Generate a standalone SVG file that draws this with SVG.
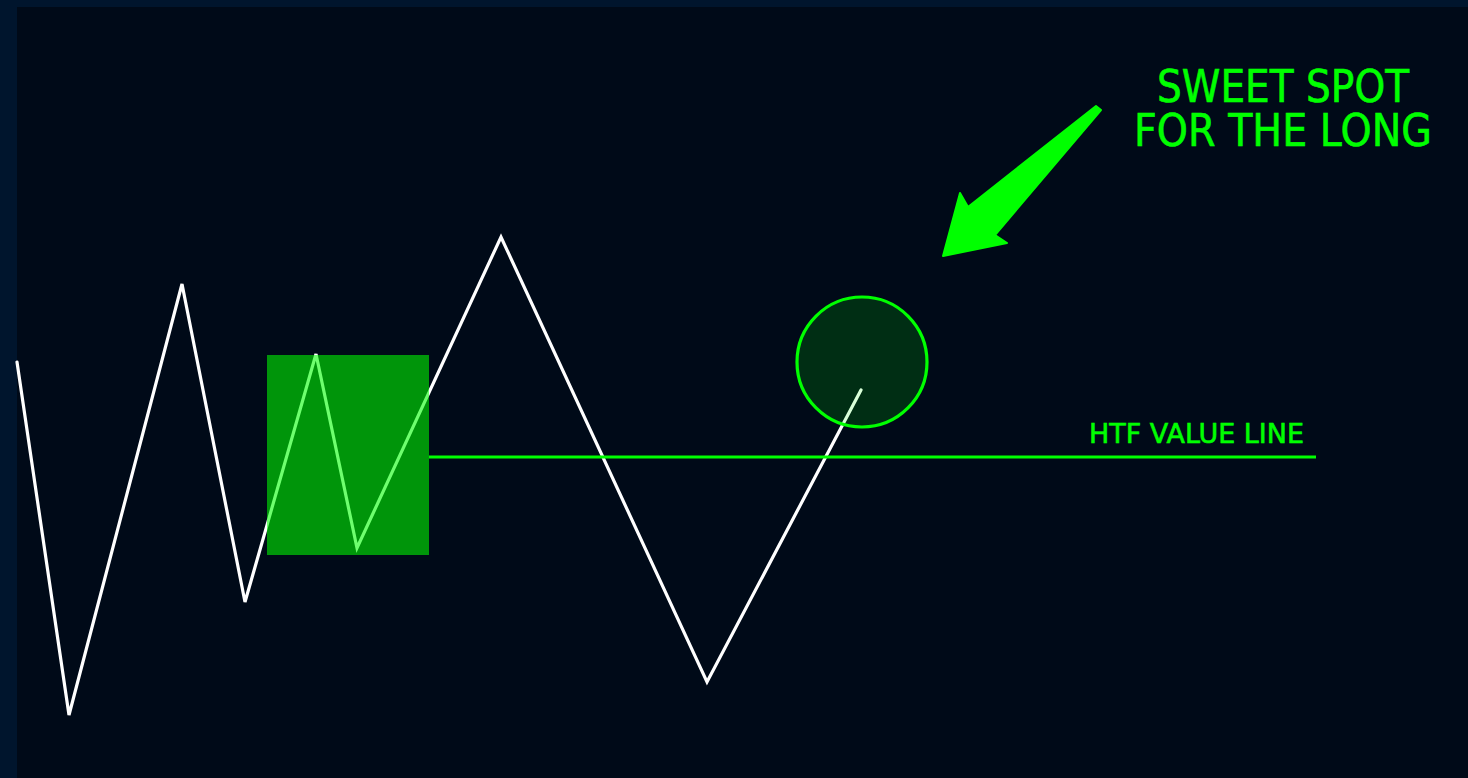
<svg xmlns="http://www.w3.org/2000/svg" width="1468" height="778" viewBox="0 0 1468 778">
<style>
.lbl{font-family:"DejaVu Sans","Verdana",sans-serif;fill:#00ff00;stroke:#00ff00;stroke-width:0.6}
.price{fill:none;stroke:#ffffff;stroke-width:3.2;stroke-linejoin:miter;stroke-linecap:round}
</style>
<rect x="0" y="0" width="1468" height="778" fill="#00152d"/>
<rect x="17" y="7" width="1451" height="771" fill="#000a18"/>
<g id="connectors">
<polyline class="price" points="17,362 69,715 182,284 245,602 316,354 357,548 501,237 707,682 861,390"/>
<line x1="429" y1="457" x2="1316" y2="457" stroke="#00ff00" stroke-width="3.2"/>
</g>
<g id="zone">
<rect x="267" y="355" width="162" height="200" fill="#00ff00" fill-opacity="0.57"/>
</g>
<g id="sweet-spot">
<circle cx="862" cy="362" r="65" fill="#00ff00" fill-opacity="0.15" stroke="#00ff00" stroke-width="3.2"/>
</g>
<g id="arrow">
<polygon points="1096,106 1101,110 995,235 1007,243 943,256 960,193 968,207" fill="#00ff00" stroke="#00ff00" stroke-width="2" stroke-linejoin="round"/>
</g>
<g id="htf-label">
<text class="lbl" x="1089" y="443" font-size="27" textLength="215" lengthAdjust="spacingAndGlyphs">HTF VALUE LINE</text>
</g>
<g id="sweet-label">
<text class="lbl" x="1157" y="102" font-size="44" textLength="252" lengthAdjust="spacingAndGlyphs">SWEET SPOT</text>
<text class="lbl" x="1134" y="146" font-size="44" textLength="298" lengthAdjust="spacingAndGlyphs">FOR THE LONG</text>
</g>
</svg>
